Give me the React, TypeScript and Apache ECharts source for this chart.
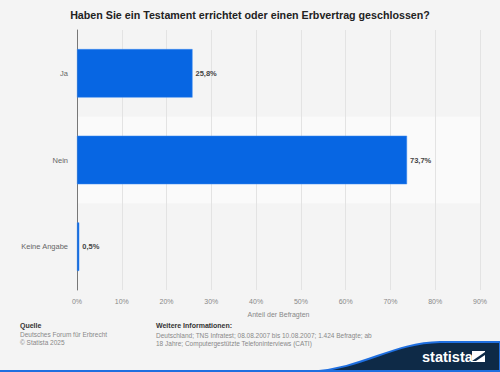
import React, { useEffect, useRef } from "react";
import * as echarts from "echarts";

const categories = ["Ja", "Nein", "Keine Angabe"];
const values = [25.8, 73.7, 0.5];
const xTicks = [0, 10, 20, 30, 40, 50, 60, 70, 80, 90];

const FONT = "'Liberation Sans', Arial, sans-serif";

echarts.graphic.registerShape(
  "wave",
  echarts.graphic.extendPath("M310 372 C365 368 392 343 440 342 L500 342 L500 372 Z", {}) as any
);

export default function App() {
  const ref = useRef<HTMLDivElement>(null);
  useEffect(() => {
    const chart = echarts.init(ref.current!, null, { renderer: "svg" });
    chart.setOption({
      animation: false,
      backgroundColor: "#f4f4f4",
      title: {
        text: "Haben Sie ein Testament errichtet oder einen Erbvertrag geschlossen?",
        left: "center",
        top: 4,
        textStyle: { fontFamily: FONT, fontSize: 10.7, fontWeight: "bold", color: "#222" },
      },
      grid: { left: 77, right: 20, top: 30, bottom: 82, containLabel: false },
      xAxis: {
        type: "value",
        min: 0,
        max: 90,
        interval: 10,
        name: "Anteil der Befragten",
        nameLocation: "middle",
        nameGap: 21,
        nameTextStyle: { fontFamily: FONT, fontSize: 7, color: "#888" },
        axisLine: { show: false },
        axisTick: { show: false },
        axisLabel: {
          fontFamily: FONT,
          fontSize: 7,
          color: "#888",
          margin: 8,
          formatter: (v: number) => (xTicks.includes(v) ? v + "%" : ""),
        },
        splitLine: { show: true, lineStyle: { color: "#e3e3e3", width: 1 } },
      },
      yAxis: {
        type: "category",
        data: categories,
        inverse: true,
        axisLine: { show: true, lineStyle: { color: "#777", width: 1 } },
        axisTick: { show: false },
        axisLabel: { fontFamily: FONT, fontSize: 7.5, color: "#666", margin: 9 },
        splitArea: { show: true, areaStyle: { color: ["rgba(0,0,0,0)", "#fafafa"] } },
      },
      series: [
        {
          type: "bar",
          data: values,
          barWidth: "56%",
          itemStyle: { color: "#0766e3", borderColor: "#3d8bf0", borderWidth: 0.5 },
          label: {
            show: true,
            position: "right",
            distance: 3,
            fontFamily: FONT,
            fontSize: 7.5,
            fontWeight: "bold",
            color: "#444",
            formatter: (p: any) => String(p.value).replace(".", ",") + "%",
          },
        },
      ],
      graphic: [
        { type: "text", left: 20, top: 322, style: { text: "Quelle", fontFamily: FONT, fontSize: 7, fontWeight: "bold", fill: "#333" } },
        { type: "text", left: 20, top: 331, style: { text: "Deutsches Forum für Erbrecht", fontFamily: FONT, fontSize: 6.5, fill: "#888" } },
        { type: "text", left: 20, top: 339, style: { text: "© Statista 2025", fontFamily: FONT, fontSize: 6.5, fill: "#888" } },
        { type: "text", left: 156, top: 322, style: { text: "Weitere Informationen:", fontFamily: FONT, fontSize: 7, fontWeight: "bold", fill: "#333" } },
        {
          type: "text",
          left: 156,
          top: 331,
          style: {
            text: "Deutschland; TNS Infratest; 08.08.2007 bis 10.08.2007; 1.424 Befragte; ab\n18 Jahre; Computergestützte Telefoninterviews (CATI)",
            fontFamily: FONT,
            fontSize: 6.5,
            lineHeight: 8,
            fill: "#888",
          },
        },
        { type: "wave", x: 0, y: 0, style: { fill: "#0e2a47", stroke: "#1f6fe0", lineWidth: 2 } },
        { type: "rect", shape: { x: 0, y: 370, width: 500, height: 2 }, style: { fill: "#1f6fe0" } },
        { type: "text", left: 422, top: 349, style: { text: "statista", fontFamily: FONT, fontSize: 14.5, fontWeight: "bold", fill: "#fff" } },
        { type: "rect", shape: { x: 472, y: 351, width: 13, height: 11 }, style: { fill: "#fff" } },
        {
          type: "polygon",
          shape: { points: [[472, 361], [485, 352], [485, 355], [476, 361]] },
          style: { fill: "#0e2a47" },
        },
      ],
    });
    return () => chart.dispose();
  }, []);
  return <div ref={ref} style={{ position: "absolute", left: 0, top: 0, width: 500, height: 372 }} />;
}
